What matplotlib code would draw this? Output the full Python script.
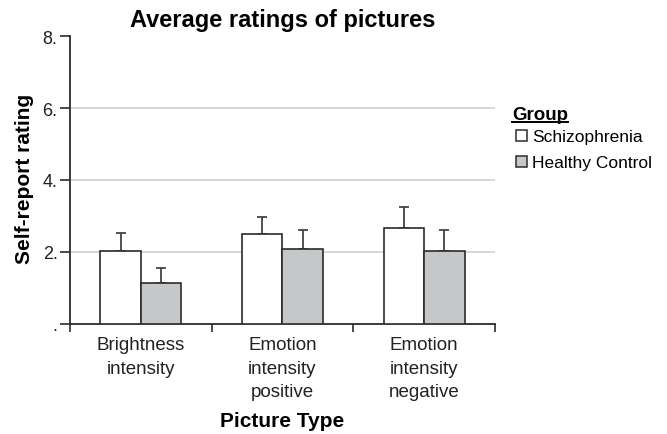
import matplotlib
matplotlib.use("Agg")
import matplotlib.pyplot as plt
from matplotlib.patches import Patch
from matplotlib.lines import Line2D
import numpy as np

plt.rcParams["font.family"] = ["Liberation Sans", "DejaVu Sans"]

categories = ["Brightness\nintensity", "Emotion\nintensity\npositive", "Emotion\nintensity\nnegative"]
schizo_mean = [2.04, 2.49, 2.67]
schizo_err = [0.49, 0.48, 0.59]
control_mean = [1.15, 2.07, 2.04]
control_err = [0.41, 0.53, 0.56]
ytick_vals = [0, 2, 4, 6, 8]
ytick_labels = [".", "2.", "4.", "6.", "8."]

fig = plt.figure(figsize=(6.67, 4.35), dpi=100)
ax = fig.add_axes([70 / 667, 110 / 435, 425 / 667, 288 / 435])

x = np.arange(len(categories))
w = 0.286
edge = "#2b2b2b"
ax.bar(x - w / 2, schizo_mean, w, color="white", edgecolor=edge, linewidth=1.2, zorder=3)
ax.bar(x + w / 2, control_mean, w, color="#c6c7c9", edgecolor=edge, linewidth=1.2, zorder=3)
ax.errorbar(x - w / 2, schizo_mean, yerr=[[0] * 3, schizo_err], fmt="none",
            ecolor="#444444", elinewidth=1.3, capsize=3.6, capthick=1.3, zorder=2)
ax.errorbar(x + w / 2, control_mean, yerr=[[0] * 3, control_err], fmt="none",
            ecolor="#444444", elinewidth=1.3, capsize=3.6, capthick=1.3, zorder=2)

ax.set_xlim(-0.5, 2.5)
ax.set_ylim(0, 8)
ax.set_yticks(ytick_vals)
ax.set_yticklabels(ytick_labels, fontsize=13, color="#222222")
for yv in [2, 4, 6]:
    ax.axhline(yv, color="#cfcfcf", linewidth=1.2, zorder=1)

ax.set_xticks([-0.5, 0.5, 1.5, 2.5])
ax.set_xticklabels([])
ax.set_xticks(x, minor=True)
ax.set_xticklabels(categories, minor=True, fontsize=13.5, color="#222222", linespacing=1.5)
ax.tick_params(axis="x", which="minor", length=0, pad=9)
ax.tick_params(axis="x", which="major", length=6, width=1.2, color=edge)
ax.tick_params(axis="y", length=7, width=1.2, color=edge, pad=2)

for s in ["top", "right"]:
    ax.spines[s].set_visible(False)
for s in ["left", "bottom"]:
    ax.spines[s].set_color(edge)
    ax.spines[s].set_linewidth(1.3)

ax.set_title("Average ratings of pictures", fontsize=17, fontweight="bold", pad=7)
fig.text(25 / 667, 1 - 179 / 435, "Self-report rating", rotation=90, fontsize=15,
         fontweight="bold", ha="center", va="center")
fig.text(282 / 667, 1 - 422 / 435, "Picture Type", fontsize=15, fontweight="bold",
         ha="center", va="center")

# legend, "Group" title drawn by hand so it can be underlined
fig.text(512 / 667, 1 - 116 / 435, "Group", fontsize=13.5, fontweight="bold", ha="left", va="center")
fig.add_artist(Line2D([512 / 667, 568 / 667], [1 - 123 / 435, 1 - 123 / 435],
                      color="black", linewidth=1.4, transform=fig.transFigure))
handles = [Patch(facecolor="white", edgecolor=edge, linewidth=1.1, label="Schizophrenia"),
           Patch(facecolor="#c6c7c9", edgecolor=edge, linewidth=1.1, label="Healthy Control")]
fig.legend(handles=handles, loc="upper left", bbox_to_anchor=(513 / 667, 1 - 127 / 435),
           frameon=False, fontsize=12.5, handlelength=0.6, handleheight=0.6,
           handletextpad=0.3, labelspacing=0.62, borderpad=0.2, borderaxespad=0)

fig.savefig("out.png", dpi=100)
